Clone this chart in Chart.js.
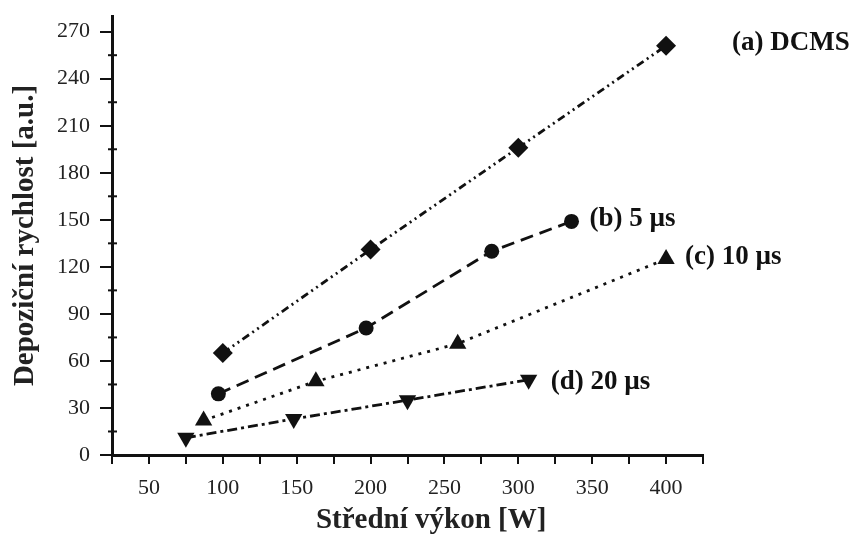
<!DOCTYPE html>
<html>
<head>
<meta charset="utf-8">
<script src="https://cdn.jsdelivr.net/npm/chart.js@4"></script>
<style>
  html, body { margin: 0; padding: 0; background: #fff; }
  #wrap { width: 866px; height: 534px; }
</style>
</head>
<body>
<div id="wrap"><canvas id="chart" width="866" height="534"></canvas></div>
<script>
// hodnoty
const seriesNames = ['(a) DCMS', '(b) 5 µs', '(c) 10 µs', '(d) 20 µs']
const dcmsX = [100, 200, 300, 400]
const dcmsY = [65, 131, 196, 261]
const us5X = [97, 197, 282, 336]
const us5Y = [39, 81, 130, 149]
const us10X = [87, 163, 259, 400]
const us10Y = [22, 47, 71, 125]
const us20X = [75, 148, 225, 307]
const us20Y = [11, 23, 35, 48]
const yLabels = [0, 30, 60, 90, 120, 150, 180, 210, 240, 270]
const xTitle = 'Střední výkon [W]'
const yTitle = 'Depoziční rychlost [a.u.]'

const toPoints = (xs, ys) => xs.map((x, i) => ({ x: x, y: ys[i] }))

const styles = [
  { pointStyle: 'rectRot', radius: 10, dash: [8, 4, 2, 4, 2, 4], rot: 0, dx: 66, dy: -3 },
  { pointStyle: 'circle', radius: 7.5, dash: [13, 7], rot: 0, dx: 18, dy: -2 },
  { pointStyle: 'triangle', radius: 10, dash: [3, 6], rot: 0, dx: 19, dy: -2 },
  { pointStyle: 'triangle', radius: 10, dash: [10, 4, 3, 4], rot: 180, dx: 22, dy: 2 },
]

const allData = [
  toPoints(dcmsX, dcmsY),
  toPoints(us5X, us5Y),
  toPoints(us10X, us10Y),
  toPoints(us20X, us20Y),
]

const datasets = allData.map((d, i) => ({
  label: seriesNames[i],
  data: d,
  borderColor: '#111',
  backgroundColor: '#111',
  borderWidth: 2.8,
  borderDash: styles[i].dash,
  pointStyle: styles[i].pointStyle,
  pointRadius: styles[i].radius,
  pointRotation: styles[i].rot,
  pointBorderWidth: 0,
  showLine: true,
  tension: 0,
}))

const serif = '"Liberation Serif", "Times New Roman", serif'

/* popisky sérií vedle posledního bodu + název osy x */
const seriesLabels = {
  id: 'seriesLabels',
  afterDatasetsDraw(chart) {
    const ctx = chart.ctx
    ctx.save()
    ctx.font = 'bold 27px ' + serif
    ctx.fillStyle = '#111'
    ctx.textBaseline = 'middle'
    chart.data.datasets.forEach((ds, i) => {
      const last = ds.data[ds.data.length - 1]
      const px = chart.scales.x.getPixelForValue(last.x)
      const py = chart.scales.y.getPixelForValue(last.y)
      ctx.fillText(ds.label, px + styles[i].dx, py + styles[i].dy)
    })
    // název osy x je v originále posunutý doprava
    ctx.font = 'bold 29px ' + serif
    ctx.fillStyle = '#222'
    ctx.textAlign = 'center'
    ctx.fillText(xTitle, chart.chartArea.left + chart.chartArea.width * 0.54, chart.chartArea.bottom + 66)
    ctx.restore()
  }
}

/* malé vedlejší značky na ose y */
const minorTicks = {
  id: 'minorTicks',
  afterDraw(chart) {
    const ctx = chart.ctx
    const y = chart.scales.y
    ctx.save()
    ctx.strokeStyle = '#111'
    ctx.lineWidth = 2
    for (let v = 15; v < 280; v += 30) {
      const py = y.getPixelForValue(v)
      ctx.beginPath()
      ctx.moveTo(y.right - 4, py)
      ctx.lineTo(y.right + 5, py)
      ctx.stroke()
    }
    ctx.restore()
  }
}

new Chart(document.querySelector('#chart'), {
  type: 'scatter',
  data: { datasets: datasets },
  options: {
    responsive: false,
    animation: false,
    layout: { padding: { top: 16, right: 163, bottom: 0, left: 0 } },
    plugins: { legend: { display: false }, tooltip: { enabled: false } },
    scales: {
      x: {
        type: 'linear',
        min: 25,
        max: 425,
        afterFit: axis => { axis.height = 79; axis.paddingLeft = 0; axis.paddingRight = 0 },
        border: { display: true, color: '#111', width: 3 },
        grid: { drawOnChartArea: false, drawTicks: true, tickLength: 9, color: '#111', lineWidth: 2 },
        ticks: {
          stepSize: 25,
          autoSkip: false,
          maxRotation: 0,
          color: '#222',
          padding: 11,
          font: { family: serif, size: 22 },
          callback: v => (v % 50 === 0 ? v : '')
        },
        title: { display: false }
      },
      y: {
        type: 'linear',
        min: 0,
        max: 280,
        afterFit: axis => { axis.width = 112; axis.paddingTop = 0; axis.paddingBottom = 0 },
        border: { display: true, color: '#111', width: 3 },
        grid: { drawOnChartArea: false, drawTicks: true, tickLength: 12, color: '#111', lineWidth: 2 },
        afterBuildTicks: axis => {
          axis.ticks = yLabels.map(v => ({ value: v }))
        },
        ticks: {
          color: '#222',
          padding: 10,
          font: { family: serif, size: 22 }
        },
        title: {
          display: true,
          text: yTitle,
          color: '#222',
          padding: { top: 8, bottom: 0 },
          font: { family: serif, size: 29, weight: 'bold' }
        }
      }
    }
  },
  plugins: [seriesLabels, minorTicks]
})
</script>
</body>
</html>
